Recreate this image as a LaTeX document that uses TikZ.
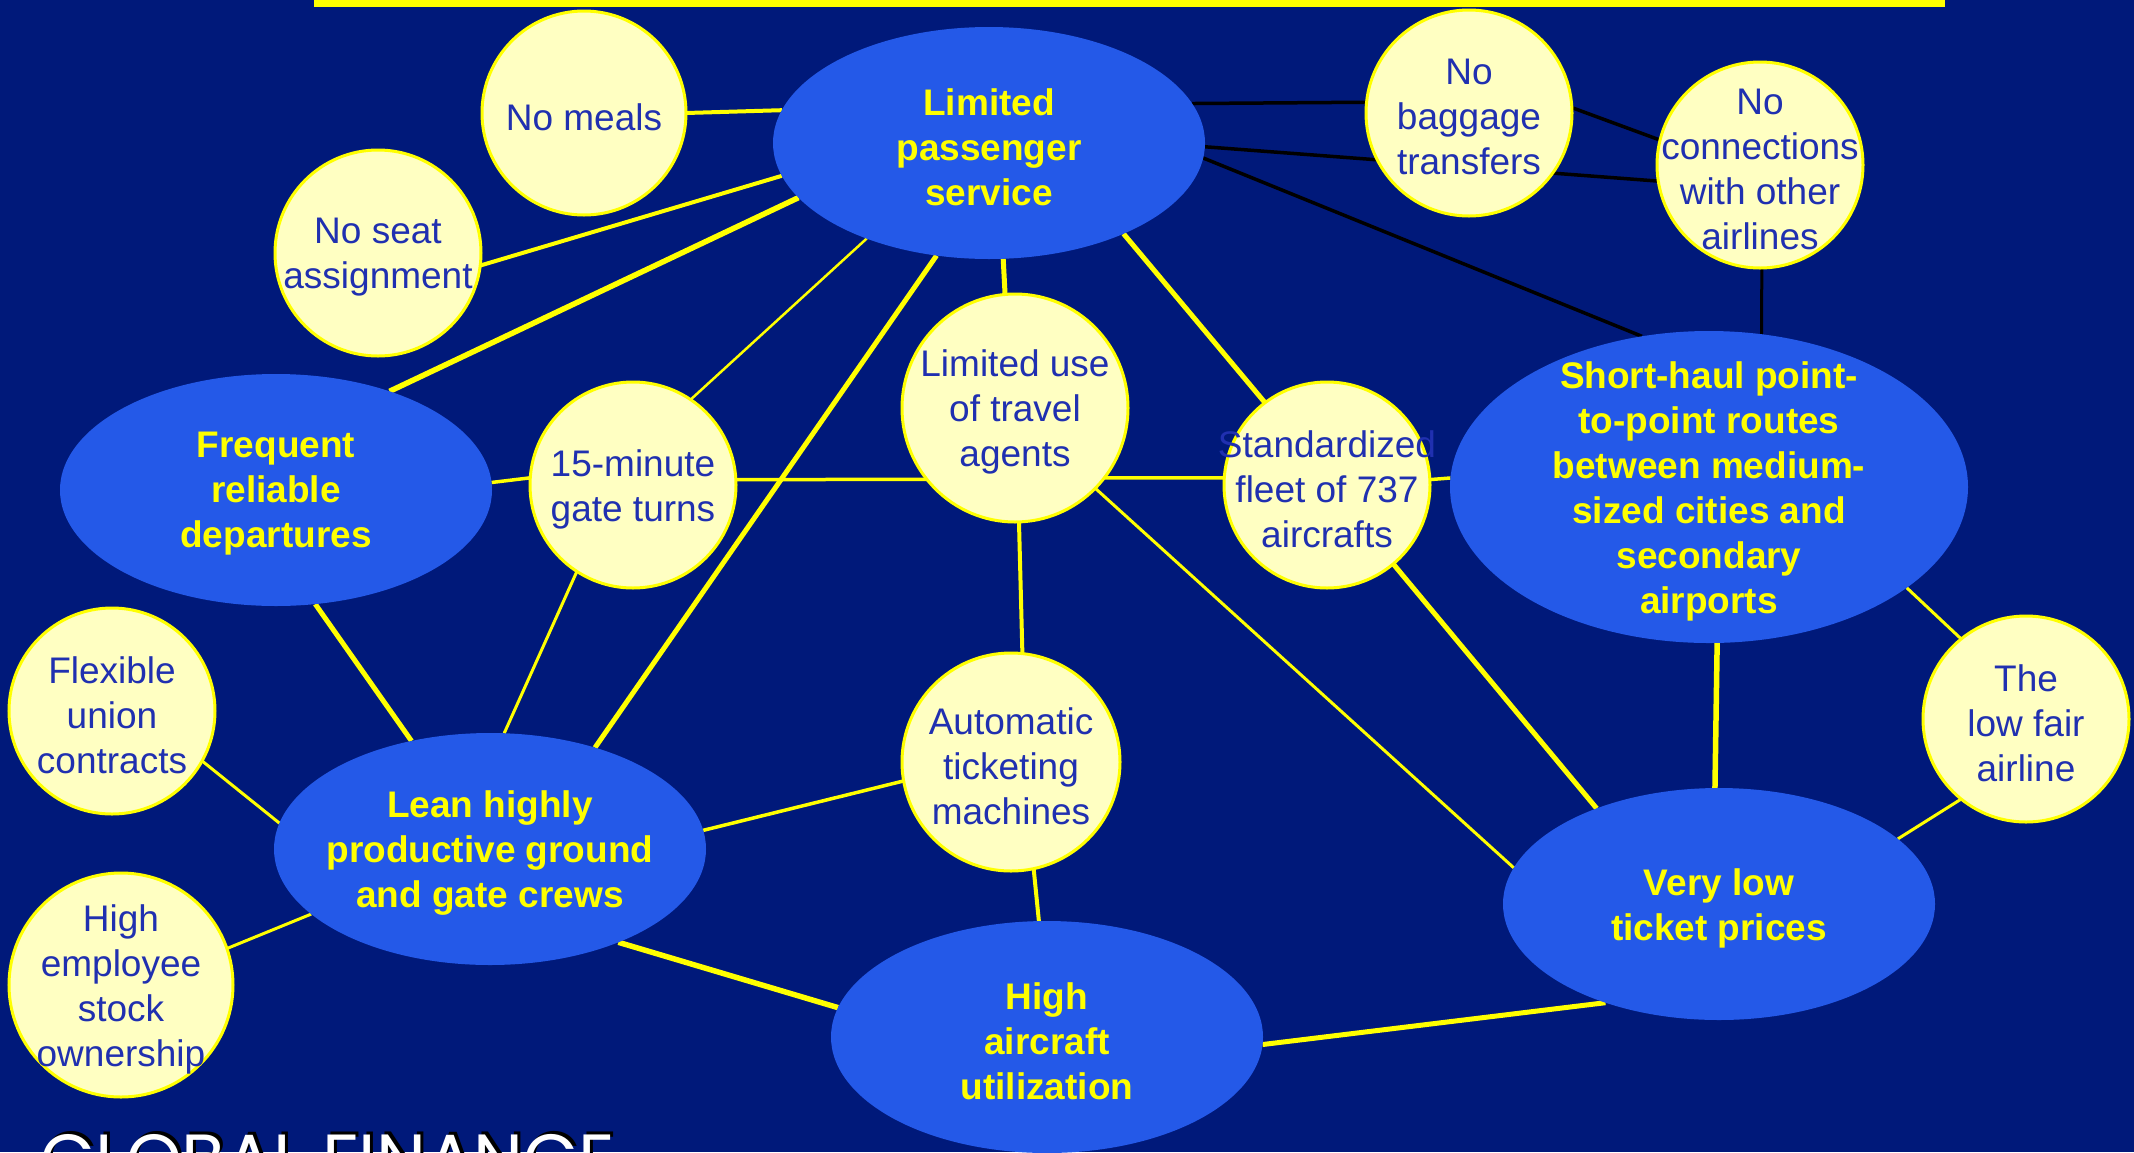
\documentclass[tikz,border=0pt]{standalone}
\usepackage{fontspec}
\setmainfont{Liberation Sans}
\newfontfamily\gffont{Poppins}
\usetikzlibrary{shapes.geometric}
\pgfdeclarelayer{background}
\pgfsetlayers{background,main}
\definecolor{bgnavy}{RGB}{0,25,122}
\definecolor{ellblue}{RGB}{36,89,232}
\definecolor{circfill}{RGB}{255,255,194}
\definecolor{yel}{RGB}{255,255,0}
\definecolor{txtblue}{RGB}{32,48,176}
\tikzset{
  bell/.style={ellipse, fill=ellblue, inner sep=0pt, outer sep=0pt},
  yell/.style={ellipse, fill=circfill, draw=yel, line width=3pt, inner sep=0pt, outer sep=0pt},
  btxt/.style={font=\fontsize{37}{45}\selectfont\bfseries, text=yel, align=center, inner sep=0pt, yshift=-4pt},
  ctxt/.style={font=\fontsize{37}{45}\selectfont, text=txtblue, align=center, inner sep=0pt, yshift=-4pt},
  ythick/.style={draw=yel, line width=5.5pt},
  ymed/.style={draw=yel, line width=4pt},
  ythin/.style={draw=yel, line width=3pt},
  blk/.style={draw=black, line width=3.5pt},
  gftxt/.style={font=\gffont\fontsize{71}{71}\selectfont, inner sep=0pt, anchor=base west},
}
\begin{document}
\begin{tikzpicture}[x=1pt,y=-1pt]
\useasboundingbox (0,0) rectangle (2134,1152);
\clip (0,0) rectangle (2134,1152);
% nodes
\node[bell, minimum width=432pt, minimum height=232pt, label={[btxt]center:{Limited\\passenger\\service}}] (lps) at (989,143) {};
\node[yell, minimum width=204pt, minimum height=204pt, label={[ctxt]center:{No meals}}] (meals) at (584,113) {};
\node[yell, minimum width=206pt, minimum height=206pt, label={[ctxt]center:{No seat\\assignment}}] (seat) at (378,253) {};
\node[yell, minimum width=206pt, minimum height=206pt, label={[ctxt]center:{No\\baggage\\transfers}}] (nb) at (1469,113) {};
\node[yell, minimum width=206pt, minimum height=206pt, label={[ctxt]center:{No\\connections\\with other\\airlines}}] (nc) at (1760,165) {};
\node[bell, minimum width=518pt, minimum height=312pt, label={[btxt]center:{Short-haul point-\\to-point routes\\between medium-\\sized cities and\\secondary\\airports}}] (short) at (1709,487) {};
\node[bell, minimum width=432pt, minimum height=232pt, label={[btxt]center:{Frequent\\reliable\\departures}}] (freq) at (276,490) {};
\node[yell, minimum width=206pt, minimum height=206pt, label={[ctxt]center:{15-minute\\gate turns}}] (m15) at (633,485) {};
\node[yell, minimum width=226pt, minimum height=228pt, label={[ctxt]center:{Limited use\\of travel\\agents}}] (lim) at (1015,408) {};
\node[yell, minimum width=206pt, minimum height=206pt, label={[ctxt]center:{Standardized\\fleet of 737\\aircrafts}}] (std) at (1327,485) {};
\node[yell, minimum width=206pt, minimum height=206pt, label={[ctxt]center:{Flexible\\union\\contracts}}] (flex) at (112,711) {};
\node[yell, minimum width=224pt, minimum height=224pt, label={[ctxt]center:{High\\employee\\stock\\ownership}}] (emp) at (121,985) {};
\node[bell, minimum width=432pt, minimum height=232pt, label={[btxt]center:{Lean highly\\productive ground\\and gate crews}}] (lean) at (490,849) {};
\node[yell, minimum width=218pt, minimum height=218pt, label={[ctxt]center:{Automatic\\ticketing\\machines}}] (auto) at (1011,762) {};
\node[bell, minimum width=432pt, minimum height=232pt, label={[btxt]center:{High\\aircraft\\utilization}}] (util) at (1047,1037) {};
\node[bell, minimum width=432pt, minimum height=232pt, label={[btxt]center:{Very low\\ticket prices}}] (vlow) at (1719,904) {};
\node[yell, minimum width=206pt, minimum height=206pt, label={[ctxt]center:{The\\low fair\\airline}}] (fair) at (2026,719) {};
% footer
\node[gftxt, text=black] (gfs) at (43,1181) {GLOBAL FINANCE};
\node[gftxt, text=white] (gf) at (40,1184) {GLOBAL FINANCE};
\begin{pgfonlayer}{background}
\fill[bgnavy] (0,0) rectangle (2134,1152);
\fill[yel] (314,0) rectangle (1945,7);
% black connectors
\draw[blk] (lps.11) -- (nb.174);
\draw[blk] (lps.-1) -- (nc.189);
\draw[blk] (nb.3) -- (nc.166);
\draw[blk] (lps.-4.5) -- (short.114.4);
\draw[blk, line width=3pt] (nc.-89) -- (short.71);
% yellow connectors
\draw[ymed] (meals.0) -- (lps.171.5);
\draw[ymed] (seat.-7.9) -- (lps.-171.6);
\draw[ythick] (freq.41.3) -- (lps.-164.4);
\draw[ythin, line width=2.5pt] (m15.56) -- (lps.-142.8);
\draw[ythick, line width=5pt] (lean.44.2) -- (lps.-115);
\draw[ythick, line width=5pt] (lim.95.5) -- (lps.-83.7);
\draw[ythick, line width=5pt] (std.127.7) -- (lps.-34.8);
\draw[ymed, line width=3.5pt] (freq.2.9) -- (m15.176.7);
\draw[ymed, line width=3.5pt] (m15.3.3) -- (lim.-141.1);
\draw[ymed, line width=3.5pt] (lim.-38.9) -- (std.176.7);
\draw[ymed, line width=3.5pt] (std.3.3) -- (short.178.2);
\draw[ythick, line width=5pt] (freq.-71.3) -- (lean.126.7);
\draw[ythin] (m15.-123.2) -- (lean.83.2);
\draw[ythin] (flex.-29.6) -- (lean.173.6);
\draw[ythin] (emp.19.4) -- (lean.-160.9);
\draw[ymed, line width=3.5pt] (lean.5.8) -- (auto.-170.1);
\draw[ythick] (lean.-36) -- (util.172.2);
\draw[ymed] (lim.-88.5) -- (auto.84.2);
\draw[ymed] (auto.-78.1) -- (util.94.4);
\draw[ythick, line width=5pt] (util.-2.1) -- (vlow.-139.2);
\draw[ythin] (lim.-45.6) -- (vlow.170.2);
\draw[ythick, line width=5pt] (std.-50) -- (vlow.142.9);
\draw[ythick] (short.-87.8) -- (vlow.92);
\draw[ythin] (short.-27.8) -- (fair.129.9);
\draw[ythin] (fair.-129.9) -- (vlow.20.2);
\end{pgfonlayer}
\end{tikzpicture}
\end{document}
